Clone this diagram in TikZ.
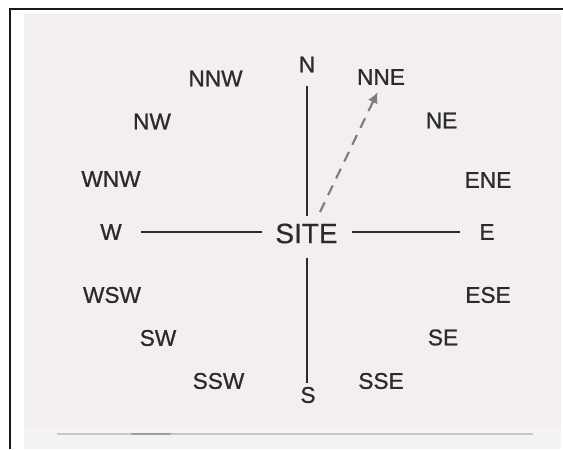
\documentclass[tikz,border=0pt]{standalone}
\usepackage{fontspec}
\setmainfont{Liberation Sans}
\newfontfamily\pointfont{Liberation Sans}[FakeBold=0.9]
\newfontfamily\sitefont{Liberation Sans}[FakeBold=0.4]
\usetikzlibrary{arrows.meta}
\definecolor{panel}{HTML}{F3EFF0}
\definecolor{strip}{HTML}{F3F3F3}
\definecolor{ink}{HTML}{2B2B2B}
\definecolor{dashgray}{HTML}{7C7C7C}
\definecolor{rule}{HTML}{C6C7D6}
\definecolor{ruledark}{HTML}{9C9EAE}
\tikzset{
  point/.style={inner sep=0pt, text=ink, font=\pointfont\fontsize{17}{17}\selectfont},
  centre/.style={inner sep=0pt, text=ink, font=\sitefont\fontsize{21}{21}\selectfont},
  axis/.style={draw=ink, line width=1.5pt},
  bearing/.style={draw=dashgray, line width=1.6pt, dash pattern=on 8pt off 6pt,
    -{Latex[length=8pt,width=8pt]}},
}
\begin{document}
\begin{tikzpicture}[x=0.75pt,y=-0.75pt]
  \useasboundingbox (0,0) rectangle (563,449);
  % paper and frame
  \fill[white] (0,0) rectangle (563,449);
  \fill[panel] (24,14) rectangle (561,426);
  \fill[strip] (24,426) rectangle (561,449);
  \draw[black!90, line width=2pt] (10,449) -- (10,9) -- (563,9);
  % ruled line at the foot
  \draw[rule, line width=1.2pt] (57,434) -- (533,434);
  \draw[ruledark, line width=1.6pt, line cap=round] (132,434) -- (170,434);

  % compass points
  \node[point] (N)   at (307,64.5) {N};
  \node[point] (NNE) at (381,77)   {NNE};
  \node[point] (NE)  at (441.5,120.5) {NE};
  \node[point] (ENE) at (488,180)  {ENE};
  \node[point] (E)   at (487,232)  {E};
  \node[point] (ESE) at (488,295)  {ESE};
  \node[point] (SE)  at (443,337.5) {SE};
  \node[point] (SSE) at (381,381)  {SSE};
  \node[point] (S)   at (308,395)  {S};
  \node[point] (SSW) at (218.5,381) {SSW};
  \node[point] (SW)  at (158,338)  {SW};
  \node[point] (WSW) at (112,295)  {WSW};
  \node[point] (W)   at (111,232)  {W};
  \node[point] (WNW) at (111,179)  {WNW};
  \node[point] (NW)  at (152,121.5) {NW};
  \node[point] (NNW) at (215.5,78.5) {NNW};

  \node[centre] (SITE) at (306.5,233.5) {SITE};

  % axes from the site
  \draw[axis, shorten <=9.75pt, shorten >=5.25pt] (N.south) -- (N.south |- SITE.north);
  \draw[axis, shorten <=10.5pt, shorten >=2.5pt] (SITE.south -| N.south) -- (N.south |- S.north);
  \draw[axis, shorten <=14.6pt, shorten >=9.75pt] (W.east) -- (W.east -| SITE.west);
  \draw[axis, shorten <=10.5pt, shorten >=14.6pt] (SITE.east |- E.west) -- (E.west);

  % bearing towards NNE
  \coordinate (foot) at (320,212);
  \draw[bearing, shorten >=6pt] (foot) -- (NNE.south);
\end{tikzpicture}
\end{document}
